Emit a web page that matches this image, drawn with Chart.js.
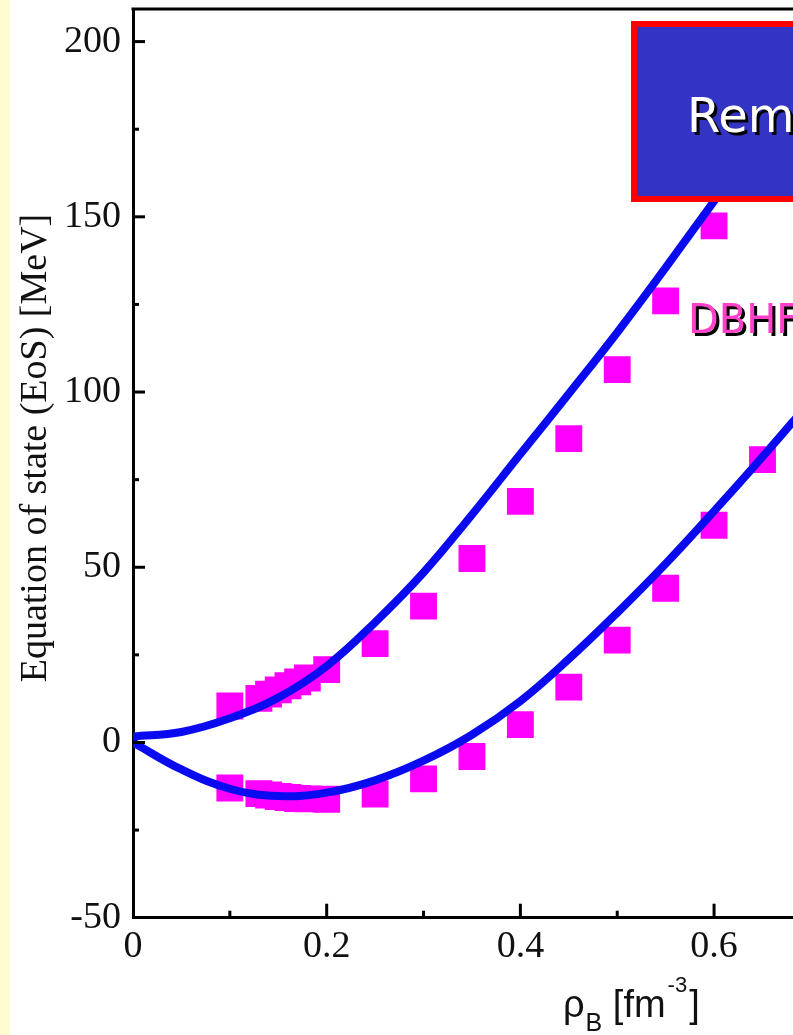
<!DOCTYPE html>
<html>
<head>
<meta charset="utf-8">
<script src="https://cdn.jsdelivr.net/npm/chart.js@4.4.1/dist/chart.umd.min.js"></script>
<style>
  html, body { margin: 0; padding: 0; }
  body {
    width: 793px; height: 1035px; overflow: hidden;
    background: linear-gradient(to right, #fffcd2 0, #fffcd2 10px, #ffffff 10px);
  }
  canvas { display: block; }
</style>
</head>
<body>
<canvas id="eos" width="793" height="1035"></canvas>
<script>
// Neutron matter EoS, model curve: baryon density [fm^-3] and energy [MeV]
const neutronCurveX = [0, 0.05, 0.1, 0.15, 0.2, 0.25, 0.3, 0.35, 0.4, 0.45, 0.5, 0.55, 0.6, 0.65, 0.7];
const neutronCurveY = [1.7, 3.0, 6.9, 12.8, 21.8, 34.3, 48.5, 65.0, 82.3, 99.5, 117.0, 135.5, 154.5, 173.0, 192.0];

// Symmetric matter EoS, model curve
const symmetricCurveX = [0, 0.05, 0.1, 0.15, 0.2, 0.25, 0.3, 0.35, 0.4, 0.45, 0.5, 0.55, 0.6, 0.65, 0.7];
const symmetricCurveY = [0, -7.7, -13.2, -15.3, -14.3, -10.8, -5.2, 2.2, 11.8, 23.8, 37.0, 51.0, 66.0, 81.5, 97.5];

// DBHF reference points, neutron matter
const dbhfNeutronX = [0.1, 0.13, 0.14, 0.15, 0.16, 0.17, 0.18, 0.2, 0.25, 0.3, 0.35, 0.4, 0.45, 0.5, 0.55, 0.6];
const dbhfNeutronY = [10.4, 12.6, 13.8, 15.0, 16.2, 17.3, 18.4, 20.8, 28.2, 38.9, 52.5, 68.8, 86.7, 106.4, 126.0, 147.4];

// DBHF reference points, symmetric matter
const dbhfSymmetricX = [0.1, 0.13, 0.14, 0.15, 0.16, 0.17, 0.18, 0.2, 0.25, 0.3, 0.35, 0.4, 0.45, 0.5, 0.55, 0.6, 0.65];
const dbhfSymmetricY = [-13.0, -14.6, -15.0, -15.4, -15.7, -16.0, -16.1, -16.2, -14.7, -10.4, -4.0, 5.1, 15.8, 29.2, 44.0, 62.0, 80.7];

// Axis ticks and labels
const xMajorTicks = [0, 0.2, 0.4, 0.6];
const xMinorTicks = [0.1, 0.3, 0.5];
const xTickLabels = ['0', '0.2', '0.4', '0.6'];
const yMajorTicks = [-50, 0, 50, 100, 150, 200];
const yMinorTicks = [-25, 25, 75, 125, 175];
const yTickLabels = ['-50', '0', '50', '100', '150', '200'];
const yTitle = 'Equation of state (EoS) [MeV]';
const noteText = 'Remember';
const dbhfLabel = 'DBHF';

const pairs = (xs, ys) => xs.map((x, i) => ({ x: x, y: ys[i] }));

const SERIF = '"Liberation Serif", "Times New Roman", serif';
const SANS = '"Liberation Sans", Arial, sans-serif';
const COMIC = '"Comic Sans MS", "DejaVu Sans", sans-serif';
const BLUE = '#0a0af0';
const MAGENTA = '#ff00ff';

// Frame, inward tick marks, axis titles and the note box
const decorations = {
  id: 'decorations',
  afterDatasetsDraw(chart) {
    const { ctx, chartArea: a, scales: { x, y } } = chart;
    ctx.save();
    ctx.strokeStyle = '#000';
    ctx.lineWidth = 3;
    const seg = (x0, y0, x1, y1) => { ctx.beginPath(); ctx.moveTo(x0, y0); ctx.lineTo(x1, y1); ctx.stroke(); };
    seg(a.left - 1.5, a.top, a.right, a.top);
    yMajorTicks.forEach(v => { const p = y.getPixelForValue(v); if (v > y.min) seg(a.left, p, a.left + 12, p); });
    yMinorTicks.forEach(v => { const p = y.getPixelForValue(v); seg(a.left, p, a.left + 6, p); });
    xMajorTicks.forEach(v => { const p = x.getPixelForValue(v); if (v > x.min) seg(p, a.bottom, p, a.bottom - 14); });
    xMinorTicks.forEach(v => { const p = x.getPixelForValue(v); seg(p, a.bottom, p, a.bottom - 7); });

    // note box
    const bx = a.left + 498, by = a.top + 12, bh = 181;
    ctx.fillStyle = '#ff0000';
    ctx.fillRect(bx, by, 400, bh);
    ctx.fillStyle = '#3434c4';
    ctx.fillRect(bx + 6, by + 6, 400, bh - 12);

    ctx.textBaseline = 'alphabetic';
    ctx.textAlign = 'left';
    ctx.font = '48px ' + COMIC;
    ctx.fillStyle = '#000';
    ctx.fillText(noteText, bx + 59, by + 114);
    ctx.fillStyle = '#ffffff';
    ctx.fillText(noteText, bx + 56, by + 111);

    ctx.font = '40px ' + COMIC;
    ctx.fillStyle = '#000';
    ctx.fillText(dbhfLabel, a.left + 558, 336);
    ctx.fillStyle = '#ff40c8';
    ctx.fillText(dbhfLabel, a.left + 555, 333);

    // y-axis title, rotated
    ctx.save();
    ctx.translate(36, 448);
    ctx.rotate(-Math.PI / 2);
    ctx.textAlign = 'center';
    ctx.textBaseline = 'middle';
    ctx.fillStyle = '#111';
    ctx.font = '38px ' + SERIF;
    ctx.fillText(yTitle, 0, 0);
    ctx.restore();

    // x-axis title: rho_B [fm^-3]
    ctx.fillStyle = '#111';
    const base = 1017;
    let cx = a.left + 430;
    ctx.font = '38px ' + SANS;
    ctx.fillText('\u03C1', cx, base);
    cx += ctx.measureText('\u03C1').width + 1;
    ctx.font = '25px ' + SANS;
    ctx.fillText('B', cx, base + 14);
    cx += ctx.measureText('B').width;
    ctx.font = '38px ' + SANS;
    cx += ctx.measureText(' ').width;
    ctx.fillText('[fm', cx, base);
    cx += ctx.measureText('[fm').width + 2;
    ctx.font = '22px ' + SANS;
    ctx.fillText('-3', cx, base - 25);
    cx += ctx.measureText('-3').width + 2;
    ctx.font = '38px ' + SANS;
    ctx.fillText(']', cx, base);
    ctx.restore();
  }
};

new Chart(document.getElementById('eos'), {
  type: 'scatter',
  data: {
    datasets: [
      {
        data: pairs(neutronCurveX, neutronCurveY),
        showLine: true, borderColor: BLUE, borderWidth: 8,
        pointRadius: 0, tension: 0.4, fill: false
      },
      {
        data: pairs(symmetricCurveX, symmetricCurveY),
        showLine: true, borderColor: BLUE, borderWidth: 8,
        pointRadius: 0, tension: 0.4, fill: false
      },
      {
        data: pairs(dbhfNeutronX, dbhfNeutronY),
        pointStyle: 'rect', pointRadius: 19, pointBorderWidth: 0,
        backgroundColor: MAGENTA, borderColor: MAGENTA
      },
      {
        data: pairs(dbhfSymmetricX, dbhfSymmetricY),
        pointStyle: 'rect', pointRadius: 19, pointBorderWidth: 0,
        backgroundColor: MAGENTA, borderColor: MAGENTA
      }
    ]
  },
  options: {
    responsive: false,
    animation: false,
    events: [],
    devicePixelRatio: 1,
    layout: { autoPadding: false, padding: { top: 9, left: 0, right: 0, bottom: 0 } },
    plugins: { legend: { display: false }, tooltip: { enabled: false } },
    scales: {
      x: {
        type: 'linear', position: 'bottom',
        min: 0, max: 0.6815,
        afterFit(s) { s.height = 117.3; s.paddingLeft = 0; s.paddingRight = 0; },
        afterBuildTicks(s) { s.ticks = xMajorTicks.map(v => ({ value: v })); },
        grid: { drawOnChartArea: false, drawTicks: false },
        border: { display: true, color: '#000', width: 3 },
        ticks: {
          padding: 7, color: '#111', maxRotation: 0, autoSkip: false,
          font: { family: SERIF, size: 38 },
          callback: (v) => { const i = xMajorTicks.indexOf(v); return i >= 0 ? xTickLabels[i] : ''; }
        }
      },
      y: {
        type: 'linear', position: 'left',
        min: -50, max: 209.3,
        afterFit(s) { s.width = 133; s.paddingTop = 0; s.paddingBottom = 0; },
        afterBuildTicks(s) { s.ticks = yMajorTicks.map(v => ({ value: v })); },
        grid: { drawOnChartArea: false, drawTicks: false },
        border: { display: true, color: '#000', width: 3 },
        ticks: {
          padding: 12, color: '#111', autoSkip: false,
          font: { family: SERIF, size: 38 },
          callback: (v) => { const i = yMajorTicks.indexOf(v); return i >= 0 ? yTickLabels[i] : ''; }
        }
      }
    }
  },
  plugins: [decorations]
});
</script>
</body>
</html>
